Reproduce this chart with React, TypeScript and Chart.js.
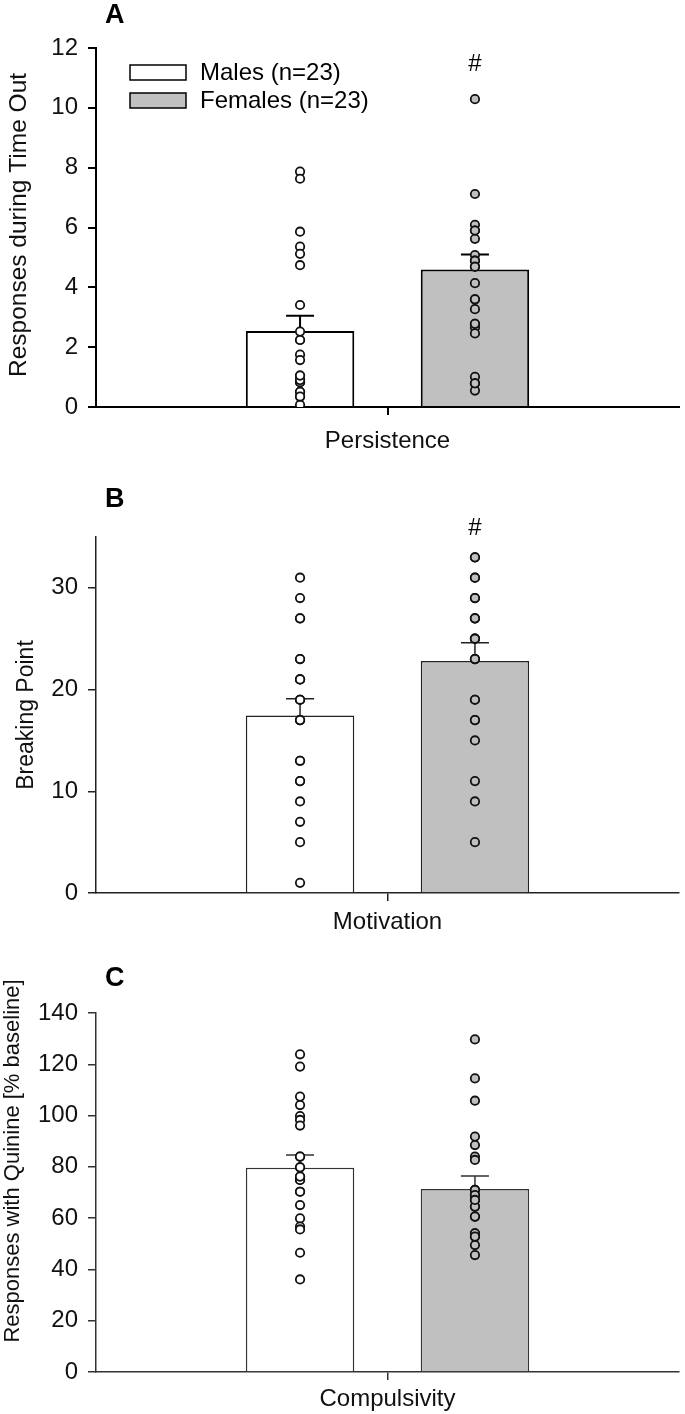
import React, { useEffect, useRef } from "react";
import { Chart, registerables } from "chart.js";

Chart.register(...registerables);

const FONT = "'Liberation Sans', Arial, Helvetica, sans-serif";

// ---------- data ----------
const groups = ["Males (n=23)", "Females (n=23)"];
const groupFills = ["#ffffff", "#c0c0c0"];
// position of each group inside the single category (category spans -0.5 .. 0.5)
const groupPositions = [-0.15, 0.15];

// Panel A – Persistence
const categoryA = "Persistence";
const malesA = [7.87, 7.63, 5.86, 5.36, 5.12, 4.74, 3.41, 2.52, 2.24, 1.75, 1.57, 1.05, 0.9, 0.83, 0.51, 0.35, 0.07, 0.83, 0.9, 0.51, 1.05, 2.24, 0.35];
const femalesA = [10.29, 7.12, 6.09, 5.9, 5.62, 5.08, 4.89, 4.69, 4.14, 3.6, 3.27, 2.78, 2.66, 2.46, 1.01, 0.79, 0.55, 5.9, 4.89, 2.78, 3.6, 0.79, 4.69];
const meansA = [2.54, 4.6];
const semsA = [0.51, 0.5];
const ticksA = [0, 2, 4, 6, 8, 10, 12];
const sigA = ["", "#"];

// Panel B – Motivation
const categoryB = "Motivation";
const malesB = [31, 29, 27, 23, 21, 19, 17, 13, 11, 9, 7, 5, 1, 23, 21, 19, 17, 17, 21, 19, 13, 27, 11];
const femalesB = [33, 31, 29, 27, 25, 23, 19, 17, 15, 11, 9, 5, 33, 31, 29, 27, 25, 23, 23, 19, 25, 27, 17];
const meansB = [17.45, 22.8];
const semsB = [1.65, 1.8];
const ticksB = [0, 10, 20, 30];
const sigB = ["", "#"];

// Panel C – Compulsivity
const categoryC = "Compulsivity";
const malesC = [123.9, 119.1, 107.4, 104.1, 99.8, 98.3, 96.1, 84.0, 79.8, 76.2, 74.9, 70.3, 65.1, 59.9, 56.7, 55.6, 46.5, 36.1, 74.9, 76.2, 79.8, 70.3, 84.0];
const femalesC = [129.7, 114.5, 105.8, 91.8, 88.5, 84.0, 82.7, 71.0, 69.0, 67.1, 64.5, 60.6, 54.1, 52.8, 49.5, 45.6, 71.0, 69.0, 64.5, 54.1, 52.8, 60.6, 67.1];
const meansC = [79.7, 71.4];
const semsC = [4.9, 5.0];
const ticksC = [0, 20, 40, 60, 80, 100, 120, 140];
const sigC = ["", ""];

// ---------- layout / style ----------
type Panel = {
  letter: string;
  category: string;
  yTitle: string;
  values: number[][];
  means: number[];
  sems: number[];
  ticks: number[];
  yMax: number;
  sig: string[];
  top: number;
  height: number;
  chartTop: number;
  chartBottom: number;
  letterY: number;
  titleX: number;
  titleY: number;
  titleSize: number;
  labelPad: number;
  lineW: number;
  lineColor: string;
  legend: boolean;
  sigGap: number;
};

const panels: Panel[] = [
  {
    letter: "A", category: categoryA, yTitle: "Responses during Time Out",
    values: [malesA, femalesA], means: meansA, sems: semsA, ticks: ticksA, yMax: 12, sig: sigA,
    top: 0, height: 465, chartTop: 48, chartBottom: 407,
    letterY: 16, titleX: 19, titleY: 225, titleSize: 24.5, labelPad: 12, lineW: 2, lineColor: "#000", legend: true, sigGap: 35,
  },
  {
    letter: "B", category: categoryB, yTitle: "Breaking Point",
    values: [malesB, femalesB], means: meansB, sems: semsB, ticks: ticksB, yMax: 35, sig: sigB,
    top: 465, height: 470, chartTop: 537, chartBottom: 893,
    letterY: 500, titleX: 27, titleY: 715, titleSize: 23, labelPad: 7, lineW: 1.5, lineColor: "#222", legend: false, sigGap: 29,
  },
  {
    letter: "C", category: categoryC, yTitle: "Responses with Quinine [% baseline]",
    values: [malesC, femalesC], means: meansC, sems: semsC, ticks: ticksC, yMax: 140, sig: sigC,
    top: 935, height: 479, chartTop: 1013, chartBottom: 1372,
    letterY: 979, titleX: 13, titleY: 1161, titleSize: 22, labelPad: 5, lineW: 1.5, lineColor: "#333", legend: false, sigGap: 30,
  },
];

const BAR_PCT = 0.62;
const AXIS_LEFT = 96;
const AXIS_RIGHT = 683;
const W = 685;

const overlayPlugin = {
  id: "overlay",
  afterDatasetDraw(chart: any, args: any, opts: any) {
    const ds = chart.data.datasets[args.index];
    if (ds.kind !== "bar") return;
    const g = ds.group as number;
    const el = args.meta.data[0];
    if (!el) return;
    const y = chart.scales.y;
    const ctx = chart.ctx;
    const top = y.getPixelForValue(opts.means[g] + opts.sems[g]);
    ctx.save();
    ctx.strokeStyle = opts.lineColor;
    ctx.lineWidth = opts.lineW;
    ctx.beginPath();
    ctx.moveTo(el.x, el.y);
    ctx.lineTo(el.x, top);
    ctx.moveTo(el.x - 14, top);
    ctx.lineTo(el.x + 14, top);
    ctx.stroke();
    ctx.restore();
  },
  afterDraw(chart: any, _args: any, opts: any) {
    const ctx = chart.ctx;
    const off = opts.top;
    ctx.save();
    // panel letter
    ctx.fillStyle = "#000";
    ctx.font = `bold 27px ${FONT}`;
    ctx.textAlign = "left";
    ctx.textBaseline = "middle";
    ctx.fillText(opts.letter, 105, opts.letterY - off);
    // y title
    ctx.save();
    ctx.translate(opts.titleX, opts.titleY - off);
    ctx.rotate(-Math.PI / 2);
    ctx.textAlign = "center";
    ctx.textBaseline = "middle";
    ctx.font = `${opts.titleSize}px ${FONT}`;
    ctx.fillStyle = "#111";
    ctx.fillText(opts.yTitle, 0, 0);
    ctx.restore();
    // significance marks
    const y = chart.scales.y;
    chart.data.datasets.forEach((ds: any, i: number) => {
      if (ds.kind !== "bar") return;
      const mark = opts.sig[ds.group];
      if (!mark) return;
      const el = chart.getDatasetMeta(i).data[0];
      const maxV = Math.max(...opts.values[ds.group]);
      ctx.font = `24px ${FONT}`;
      ctx.textAlign = "center";
      ctx.textBaseline = "middle";
      ctx.fillStyle = "#000";
      ctx.fillText(mark, el.x, y.getPixelForValue(maxV) - opts.sigGap);
    });
    // legend
    if (opts.legend) {
      chart.data.datasets.forEach((ds: any) => {
        if (ds.kind !== "bar") return;
        const by = 65 + ds.group * 28;
        ctx.fillStyle = ds.backgroundColor;
        ctx.fillRect(130, by, 56, 15);
        ctx.strokeStyle = "#000";
        ctx.lineWidth = 1.5;
        ctx.strokeRect(130, by, 56, 15);
        ctx.fillStyle = "#000";
        ctx.font = `24px ${FONT}`;
        ctx.textAlign = "left";
        ctx.textBaseline = "middle";
        ctx.fillText(ds.label, 200, by + 8);
      });
    }
    ctx.restore();
  },
};

function PanelChart({ p }: { p: Panel }) {
  const ref = useRef<HTMLCanvasElement | null>(null);
  useEffect(() => {
    if (!ref.current) return;
    const barSets = groups.map((label, g) => ({
      type: "bar" as const,
      kind: "bar",
      group: g,
      label,
      data: [{ x: groupPositions[g], y: p.means[g] }],
      backgroundColor: groupFills[g],
      borderColor: p.lineColor,
      borderWidth: p.lineW,
      grouped: false,
      categoryPercentage: 1,
      barPercentage: BAR_PCT,
      order: 1,
    }));
    const dotSets = groups.map((label, g) => ({
      type: "scatter" as const,
      kind: "dots",
      group: g,
      label: label + " individual",
      data: p.values[g].map((v) => ({ x: groupPositions[g], y: v })),
      pointRadius: 4.2,
      pointBorderWidth: 1.8,
      pointBackgroundColor: groupFills[g],
      pointBorderColor: "#111",
      showLine: false,
      order: 0,
    }));
    const chart = new Chart(ref.current, {
      type: "bar",
      data: { datasets: [...barSets, ...dotSets] as any },
      plugins: [overlayPlugin as any],
      options: {
        animation: false,
        responsive: false,
        events: [],
        layout: { padding: { top: p.chartTop - p.top, right: W - AXIS_RIGHT, left: 0, bottom: 0 } },
        scales: {
          x: {
            type: "linear",
            min: -0.5,
            max: 0.5,
            offset: false,
            afterBuildTicks: (s: any) => { s.ticks = [{ value: 0 }]; },
            grid: {
              offset: false, drawOnChartArea: false, drawTicks: true, tickLength: 8, lineWidth: p.lineW,
              color: p.lineColor,
            },
            border: { display: true, color: p.lineColor, width: p.lineW },
            ticks: {
              color: "#111", font: { family: FONT, size: 24 }, padding: p.labelPad, maxRotation: 0,
              callback: () => p.category,
            },
            afterFit: (s: any) => { s.height = p.top + p.height - p.chartBottom; },
          },
          y: {
            type: "linear",
            min: 0,
            max: p.yMax,
            afterBuildTicks: (s: any) => { s.ticks = p.ticks.map((v) => ({ value: v })); },
            grid: { drawOnChartArea: false, drawTicks: true, tickLength: 8, color: p.lineColor, lineWidth: p.lineW },
            border: { display: true, color: p.lineColor, width: p.lineW },
            ticks: { color: "#111", font: { family: FONT, size: 24 }, padding: 10 },
            afterFit: (s: any) => { s.width = AXIS_LEFT; },
          },
        },
        plugins: {
          legend: { display: false },
          tooltip: { enabled: false },
          title: { display: false },
          overlay: {
            top: p.top, letter: p.letter, letterY: p.letterY, titleX: p.titleX, titleY: p.titleY,
            titleSize: p.titleSize, yTitle: p.yTitle, means: p.means, sems: p.sems, sig: p.sig,
            values: p.values, lineColor: p.lineColor, lineW: p.lineW, legend: p.legend, sigGap: p.sigGap,
          },
        } as any,
      },
    });
    return () => chart.destroy();
  }, [p]);
  return (
    <canvas
      ref={ref}
      width={W}
      height={p.height}
      style={{ position: "absolute", left: 0, top: p.top, width: W, height: p.height, display: "block" }}
    />
  );
}

export default function App() {
  return (
    <div style={{ position: "absolute", left: 0, top: 0, width: W, height: 1414, background: "#fff", overflow: "hidden" }}>
      {panels.map((p) => (
        <PanelChart key={p.letter} p={p} />
      ))}
    </div>
  );
}
